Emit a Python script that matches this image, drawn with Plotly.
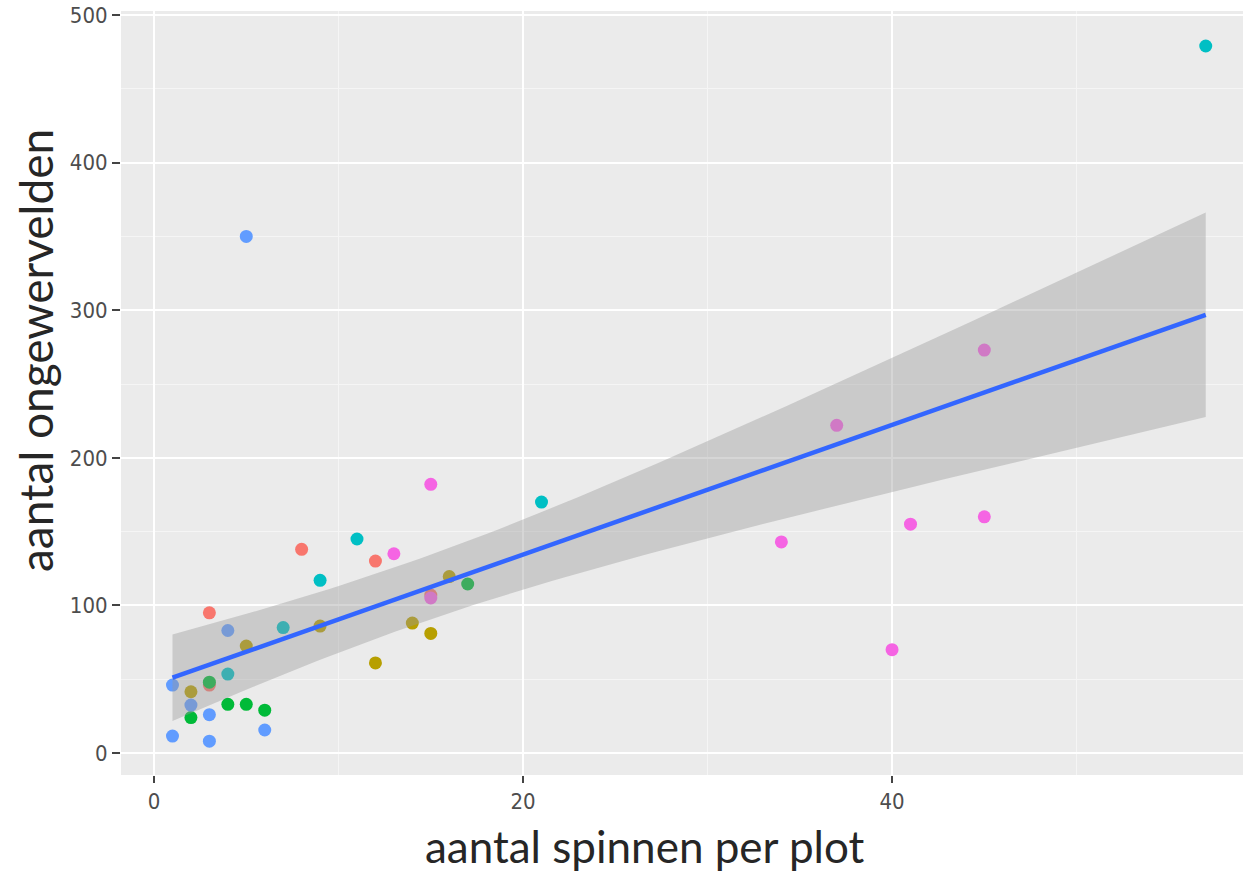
import numpy as np
import plotly.graph_objects as go

# spiders per plot (x) and invertebrates (y), one list per site group
groups = ["A", "B", "C", "D", "E", "F"]
group_colors = ["#F8766D", "#B79F00", "#00BA38", "#00BFC4", "#619CFF", "#F564E3"]

spinnen = {
    "A": [8, 12, 3, 3, 15],
    "B": [16, 14, 9, 15, 5, 12, 2],
    "C": [17, 3, 2, 4, 5, 6],
    "D": [57, 21, 11, 9, 7, 4],
    "E": [5, 4, 1, 2, 3, 1, 3, 6],
    "F": [15, 13, 15, 34, 41, 45, 40, 37, 45],
}
ongewervelden = {
    "A": [138, 130, 95, 46, 107],
    "B": [119.5, 88, 86, 81, 72.5, 61, 41.5],
    "C": [114.5, 48, 24, 33, 33, 29],
    "D": [479, 170, 145, 117, 85, 53.5],
    "E": [350, 83, 46, 32.5, 26, 11.5, 8, 15.6],
    "F": [182, 135, 105, 143, 155, 160, 70, 222, 273],
}

x_ticks = [0, 20, 40]
y_ticks = [0, 100, 200, 300, 400, 500]

# linear model with 95% confidence band (like geom_smooth(method = "lm"))
x_all = np.concatenate([spinnen[g] for g in groups]).astype(float)
y_all = np.concatenate([ongewervelden[g] for g in groups]).astype(float)
n = len(x_all)
mx, my = x_all.mean(), y_all.mean()
sxx = np.sum((x_all - mx) ** 2)
slope = np.sum((x_all - mx) * (y_all - my)) / sxx
intercept = my - slope * mx
resid = y_all - (intercept + slope * x_all)
s = np.sqrt(np.sum(resid ** 2) / (n - 2))
T_QUANTILE = 2.0227  # t(0.975, df = n - 2 = 39)

x_fit = np.linspace(x_all.min(), x_all.max(), 80)
y_fit = intercept + slope * x_fit
se = s * np.sqrt(1.0 / n + (x_fit - mx) ** 2 / sxx)
lo = y_fit - T_QUANTILE * se
hi = y_fit + T_QUANTILE * se

fig = go.Figure()

for g, c in zip(groups, group_colors):
    fig.add_trace(go.Scatter(
        x=spinnen[g], y=ongewervelden[g], mode="markers",
        marker=dict(size=13, color=c, line=dict(width=0)),
        showlegend=False, hoverinfo="x+y",
    ))

fig.add_trace(go.Scatter(
    x=np.concatenate([x_fit, x_fit[::-1]]),
    y=np.concatenate([hi, lo[::-1]]),
    fill="toself", fillcolor="rgba(153,153,153,0.4)",
    line=dict(width=0), mode="lines", showlegend=False, hoverinfo="skip",
))
fig.add_trace(go.Scatter(
    x=x_fit, y=y_fit, mode="lines",
    line=dict(color="#3366FF", width=4.5), showlegend=False,
))

tick_font = dict(family="Liberation Sans Narrow, DejaVu Sans Condensed, Arial Narrow, sans-serif",
                 size=22, color="#4D4D4D")
title_family = "Lato, Carlito, Calibri, sans-serif"

fig.update_layout(
    width=1243, height=880,
    margin=dict(l=121, r=0, t=11, b=105),
    paper_bgcolor="white", plot_bgcolor="#EBEBEB",
    xaxis=dict(
        range=[-1.79, 59.02], tickvals=x_ticks, ticks="outside", ticklen=7,
        tickwidth=2, tickcolor="#444444", tickfont=tick_font,
        showgrid=True, gridcolor="white", gridwidth=2,
        minor=dict(dtick=10, tick0=0, showgrid=True, gridcolor="#F5F5F5", gridwidth=1, ticks=""),
        zeroline=False, showline=False,
    ),
    yaxis=dict(
        range=[-14.9, 502.7], tickvals=y_ticks, ticks="outside", ticklen=8,
        tickwidth=2, tickcolor="#444444", tickfont=tick_font,
        showgrid=True, gridcolor="white", gridwidth=2,
        minor=dict(dtick=50, tick0=0, showgrid=True, gridcolor="#F5F5F5", gridwidth=1, ticks=""),
        zeroline=False, showline=False,
    ),
    annotations=[
        dict(text="aantal spinnen per plot", xref="paper", yref="paper",
             x=0.467, y=-0.093, xanchor="center", yanchor="middle",
             showarrow=False, font=dict(family=title_family, size=44, color="#262626")),
        dict(text="aantal ongewervelden", xref="paper", yref="paper",
             x=-0.0757, y=0.555, xanchor="center", yanchor="middle",
             textangle=-90, showarrow=False, font=dict(family=title_family, size=46, color="#262626")),
    ],
)

fig.write_html("out.html")
